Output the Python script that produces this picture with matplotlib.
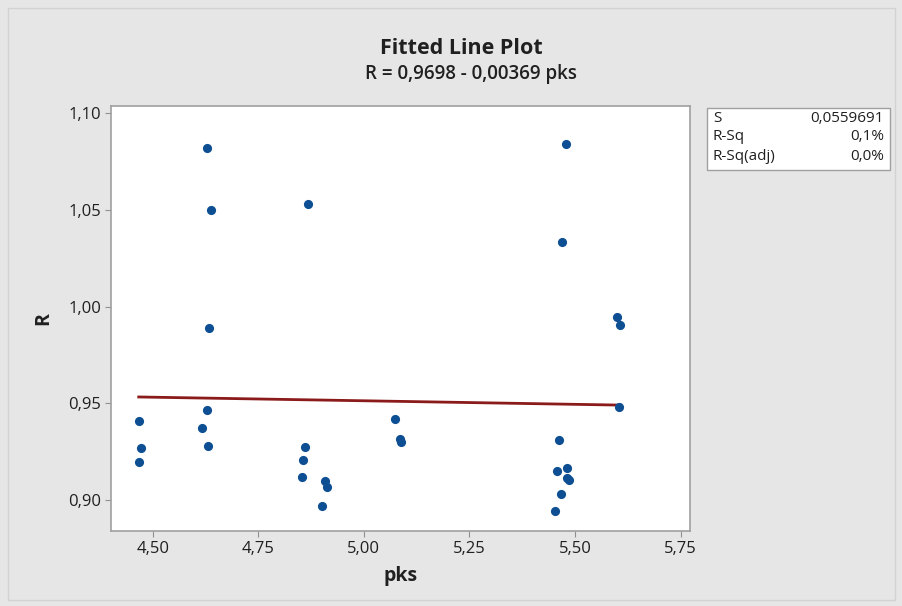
import matplotlib.pyplot as plt
import matplotlib.ticker as mticker
from matplotlib.patches import Rectangle
import numpy as np

pks = [4.467, 4.472, 4.467,
       4.628, 4.637, 4.634, 4.628, 4.617, 4.630,
       4.867, 4.861, 4.855, 4.854, 4.908, 4.912, 4.900,
       5.073, 5.085, 5.089,
       5.478, 5.469, 5.463, 5.458, 5.480, 5.482, 5.486, 5.466, 5.452,
       5.600, 5.607, 5.604]
r_vals = [0.9410, 0.9267, 0.9198,
          1.0819, 1.0500, 0.9888, 0.9464, 0.9371, 0.9281,
          1.0531, 0.9274, 0.9208, 0.9119, 0.9100, 0.9066, 0.8969,
          0.9417, 0.9314, 0.9301,
          1.0839, 1.0336, 0.9309, 0.9152, 0.9164, 0.9112, 0.9103, 0.9033, 0.8942,
          0.9946, 0.9906, 0.9479]

intercept = 0.9698
slope = -0.00369
stat_names = ['S', 'R-Sq', 'R-Sq(adj)']
stat_values = ['0,0559691', '0,1%', '0,0%']

xticks = [4.50, 4.75, 5.00, 5.25, 5.50, 5.75]
yticks = [0.90, 0.95, 1.00, 1.05, 1.10]

plt.rcParams['font.family'] = ['Open Sans', 'DejaVu Sans']

W, H = 903, 606
fig = plt.figure(figsize=(W / 100, H / 100), dpi=100, facecolor='#e6e6e6')
fig.patches.append(Rectangle((8 / W, 6 / H), 887 / W, 592 / H, transform=fig.transFigure,
                             fill=False, edgecolor='#d2d2d2', lw=1))

ax = fig.add_axes([111 / W, 1 - 531 / H, (690 - 111) / W, (531 - 106) / H])
ax.set_facecolor('white')

xs = np.array([min(pks), max(pks)])
ax.plot(xs, intercept + slope * xs, color='#8b1a1a', lw=2, zorder=2)
ax.plot(pks, r_vals, 'o', color='#0d4f92', markersize=6.6, markeredgewidth=0, zorder=3)

ax.set_xlim(4.4014, 5.772)
ax.set_ylim(0.884, 1.1038)
ax.set_xticks(xticks)
ax.set_yticks(yticks)
fmt = mticker.FuncFormatter(lambda v, p: f'{v:.2f}'.replace('.', ','))
ax.xaxis.set_major_formatter(fmt)
ax.yaxis.set_major_formatter(fmt)
ax.tick_params(direction='out', length=4, width=0.8, color='#909090', labelsize=12,
               labelcolor='#202020', pad=3)
for s in ax.spines.values():
    s.set_color('#a0a0a0')
    s.set_linewidth(1.2)

ax.set_xlabel('pks', fontsize=14, fontweight='bold', color='#202020', labelpad=7)
ax.set_ylabel('R', fontsize=14, fontweight='bold', color='#202020', labelpad=11)

fig.text(461 / W, 1 - 48 / H, 'Fitted Line Plot', ha='center', va='center',
         fontsize=15.5, fontweight='bold', color='#202020')
fig.text(471 / W, 1 - 74 / H, 'R = 0,9698 - 0,00369 pks', ha='center', va='center',
         fontsize=13.5, fontweight='semibold', color='#202020')

# stats box
fig.patches.append(Rectangle((707 / W, 1 - 170 / H), 183 / W, 62 / H, transform=fig.transFigure,
                             facecolor='white', edgecolor='#a0a0a0', lw=1))
for i, (name, val) in enumerate(zip(stat_names, stat_values)):
    yy = 1 - (118 + i * 19) / H
    fig.text(713 / W, yy, name, ha='left', va='center', fontsize=11, color='#202020')
    fig.text(884 / W, yy, val, ha='right', va='center', fontsize=11, color='#202020')

fig.savefig('out.png', dpi=100, facecolor=fig.get_facecolor())
